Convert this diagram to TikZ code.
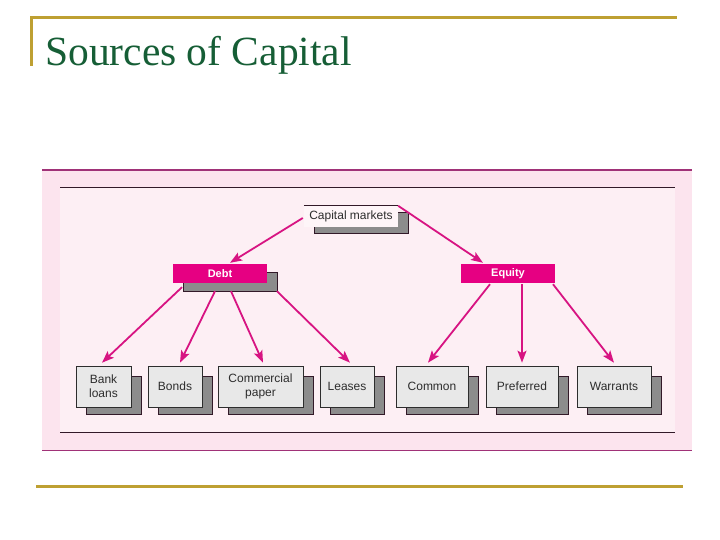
\documentclass[tikz,border=0pt]{standalone}
\usepackage{fontspec}
\setmainfont{Liberation Serif}
\setsansfont{Liberation Sans}
\usetikzlibrary{arrows.meta}
\definecolor{gold}{RGB}{190,160,50}
\definecolor{titlegreen}{RGB}{22,94,54}
\definecolor{outerpink}{RGB}{252,228,238}
\definecolor{innerpink}{RGB}{253,239,244}
\definecolor{panelline}{RGB}{160,50,120}
\definecolor{innerline}{RGB}{50,25,40}
\definecolor{mag}{RGB}{230,0,130}
\definecolor{arrowmag}{RGB}{215,20,130}
\definecolor{boxgray}{RGB}{232,232,232}
\definecolor{shadowgray}{RGB}{140,140,140}
\definecolor{boxtext}{RGB}{45,45,45}
\tikzset{
  srcbox/.style={draw=boxtext, line width=0.6pt, fill=boxgray, minimum height=41pt, inner sep=0pt, align=center, font=\sffamily\fontsize{12}{14}\selectfont, text=boxtext},
  headbox/.style={fill=mag, minimum height=19pt, minimum width=94pt, inner sep=0pt, font=\sffamily\bfseries\fontsize{11}{12}\selectfont, text=white},
  shadowfill/.style={fill=shadowgray, draw=innerline, line width=0.5pt},
  link/.style={draw=arrowmag, line width=1.8pt, -{Stealth[length=12pt,width=9pt,inset=2.5pt]}}
}
\begin{document}
\begin{tikzpicture}[x=1pt,y=-1pt]
\useasboundingbox (0,0) rectangle (720,540);
% title decoration
\draw[gold, line width=3pt] (31,18) -- (677,18);
\draw[gold, line width=3pt] (31,16.5) -- (31,66);
\node[anchor=base west, inner sep=0pt, text=titlegreen, font=\fontsize{41.5}{44}\selectfont] (title) at (45,66) {Sources of Capital};
\draw[gold, line width=3pt] (36,486) -- (683,486);
% panel
\fill[outerpink] (42,170) rectangle (692,450);
\fill[innerpink] (60,187) rectangle (675,432);
\draw[panelline, line width=1.5pt] (42,170) -- (692,170);
\draw[panelline, line width=1pt] (42,450) -- (692,450);
\draw[innerline, line width=0.8pt] (60,187) -- (675,187);
\draw[innerline, line width=0.8pt] (60,432) -- (675,432);
% capital markets
\fill[shadowfill] (314,212) rectangle (408,233);
\node[fill=innerpink!60!white, minimum width=94pt, minimum height=21pt, inner sep=0pt, font=\sffamily\fontsize{12}{13}\selectfont, text=boxtext] (cm) at (351,216.5) {Capital markets};
\draw[innerline, line width=0.8pt] (cm.north west) -- (cm.north east);
% debt / equity
\fill[shadowfill] (183,272) rectangle (277,291);
\node[headbox] (debt) at (220,273.5) {Debt};
\node[headbox] (equity) at (508,273.5) {Equity};
% bottom boxes with shadows
\foreach \nm/\cx/\w/\txt in {bank/103.5/55/{Bank\\loans}, bonds/175/54/Bonds, cp/260.5/85/{Commercial\\paper}, leases/347/54/Leases, common/432/72/Common, pref/522/72/Preferred, warr/614/74/Warrants}{
  \fill[shadowfill] (\cx-\w/2+10,376) rectangle (\cx+\w/2+10,414);
  \node[srcbox, minimum width=\w pt] (\nm) at (\cx,386.5) {\txt};
}
% arrows
\draw[link] ([shift={(-1,1.5)}]cm.west) -- ([shift={(10,-1)}]debt.north);
\draw[link] ([shift={(0,0)}]cm.north east) -- ([shift={(-25,-1)}]equity.north);
\draw[link] ([shift={(-38,4)}]debt.south) -- ([shift={(-1.5,-3)}]bank.north);
\draw[link] ([shift={(-5,8)}]debt.south) -- ([shift={(5,-3)}]bonds.north);
\draw[link] ([shift={(11,8)}]debt.south) -- ([shift={(2.5,-3)}]cp.north);
\draw[link] ([shift={(57,8)}]debt.south) -- ([shift={(3,-3)}]leases.north);
\draw[link] ([shift={(-18,1)}]equity.south) -- ([shift={(-4,-3)}]common.north);
\draw[link] ([shift={(14,1)}]equity.south) -- ([shift={(0,-3)}]pref.north);
\draw[link] ([shift={(45,1)}]equity.south) -- ([shift={(0,-3)}]warr.north);
\end{tikzpicture}
\end{document}
